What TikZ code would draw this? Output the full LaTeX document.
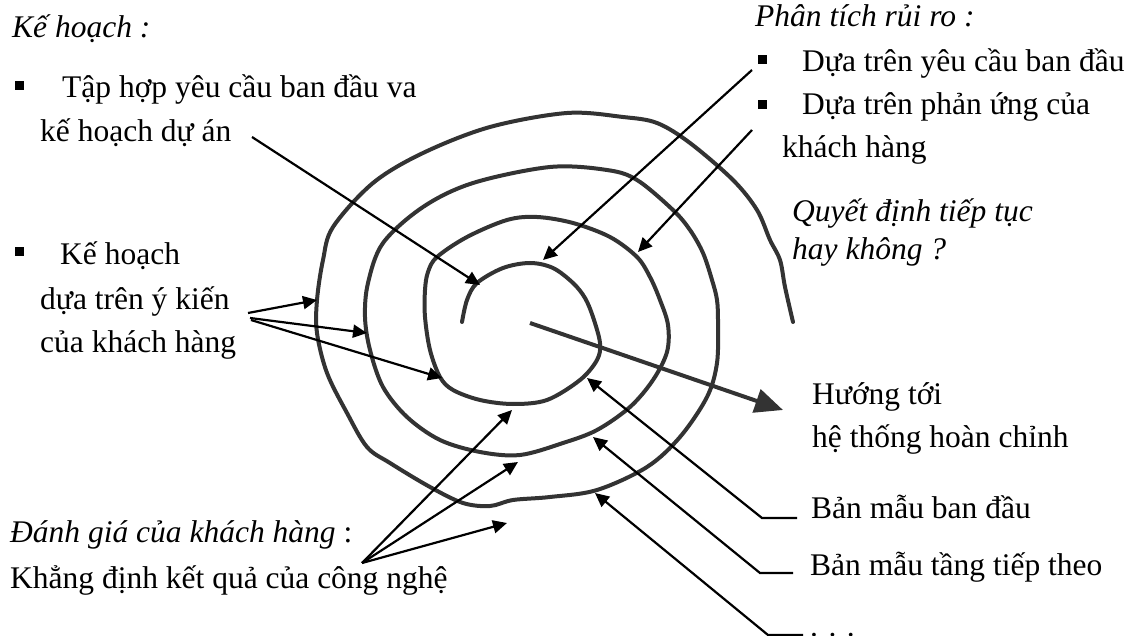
\documentclass[tikz,border=0pt]{standalone}
\usepackage{fontspec}
\setmainfont{Liberation Serif}
\usetikzlibrary{arrows.meta}
\definecolor{coilgray}{HTML}{333333}
\begin{document}
\begin{tikzpicture}[x=1pt,y=-1pt,
  lbl/.style={anchor=base west, inner sep=0pt, font=\fontsize{31.5}{44}\selectfont},
  ilbl/.style={anchor=base west, inner sep=0pt, font=\fontsize{31.5}{44}\selectfont\itshape},
  bul/.style={fill=black, inner sep=0pt, minimum size=9pt},
  ptr/.style={line width=2.2pt, -{Triangle[length=14pt,width=13pt]}},
  coil/.style={line width=4pt, draw=coilgray, line cap=round, line join=round},
]
\useasboundingbox (0,0) rectangle (1133,636);

% ---- the spiral ----
\draw[coil] plot[smooth, tension=0.55] coordinates {
  (462,322) (467,300) (477,283) (503,268) (530,263) (553,268) (573,283)
  (585,298) (593,317) (600,343) (597,360) (580,380) (547,400) (513,404)
  (480,400) (453,390) (440,377) (430,350) (425,317) (425,290) (428,272)
  (437,257) (467,237) (507,220) (537,217) (573,223) (610,237) (637,257)
  (650,277) (660,300) (668,325) (667,352) (653,380) (630,407) (597,430)
  (563,443) (520,455) (480,452) (440,440) (407,417) (383,387) (370,350)
  (365,317) (368,283) (383,243) (423,207) (473,183) (550,167) (607,170)
  (637,180) (673,210) (690,230) (703,253) (712,280) (717,300) (718,323)
  (717,363) (707,397) (680,437) (647,467) (597,490) (550,497) (513,500)
  (490,506) (463,503) (430,487) (390,463) (367,447) (347,413) (327,373)
  (317,333) (317,300) (323,260) (333,227) (373,183) (423,153) (490,127)
  (567,113) (623,117) (657,123) (690,143) (733,180) (757,210) (770,240)
  (780,260) (785,287) (793,322)};

% ---- outward arrow from the centre ----
\coordinate (core) at (530,323);
\coordinate (goal) at (783,410);
\draw[line width=4pt, draw=coilgray, fill=coilgray,
  -{Triangle[length=28pt,width=24pt]}] (core) -- (goal);

% ---- upper left: planning ----
\node[ilbl] (plan) at (12,38) {Kế hoạch :};
\node[bul] (b1) at (19,86) {};
\node[lbl] (req1) at (62,98) {Tập hợp yêu cầu ban đầu va};
\node[lbl] (req2) at (40,142) {kế hoạch dự án};
\coordinate (req2end) at (252,137);
\coordinate (tipreq) at (480,285);
\draw[ptr] (req2end) -- (tipreq);

\node[bul] (b2) at (19,252) {};
\node[lbl] (cp1) at (60,265) {Kế hoạch};
\node[lbl] (cp2) at (40,310) {dựa trên ý kiến};
\node[lbl] (cp3) at (40,353) {của khách hàng};
\coordinate (cpa) at (248,313);
\coordinate (cpb) at (250,318);
\coordinate (cpc) at (251,320);
\coordinate (cpt1) at (317,300);
\coordinate (cpt2) at (367,333);
\coordinate (cpt3) at (442,378);
\draw[ptr] (cpa) -- (cpt1);
\draw[ptr] (cpb) -- (cpt2);
\draw[ptr] (cpc) -- (cpt3);

% ---- upper right: risk analysis ----
\node[ilbl] (risk) at (755,27) {Phân tích rủi ro :};
\node[bul] (b3) at (762,60) {};
\node[lbl] (rk1) at (802,72) {Dựa trên yêu cầu ban đầu};
\node[bul] (b4) at (762,105) {};
\node[lbl] (rk2) at (802,115) {Dựa trên phản ứng của};
\node[lbl] (rk3) at (782,158) {khách hàng};
\coordinate (rka) at (752,70);
\coordinate (rkb) at (752,130);
\coordinate (rkt1) at (543,260);
\coordinate (rkt2) at (638,252);
\draw[ptr] (rka) -- (rkt1);
\draw[ptr] (rkb) -- (rkt2);

\node[ilbl] (go1) at (792,222) {Quyết định tiếp tục};
\node[ilbl] (go2) at (792,260) {hay không ?};

% ---- right: towards the full system ----
\node[lbl] (sys1) at (812,404) {Hướng tới};
\node[lbl] (sys2) at (812,447) {hệ thống hoàn chỉnh};

% ---- lower right: prototypes ----
\node[lbl] (pr1) at (811,518) {Bản mẫu ban đầu};
\node[lbl] (pr2) at (810,575) {Bản mẫu tầng tiếp theo};
\node[lbl] (pr3) at (810,636) {. . .};
\coordinate (pr1e) at (797,518);
\coordinate (pr1k) at (762,518);
\coordinate (pr1t) at (587,378);
\coordinate (pr2e) at (793,573);
\coordinate (pr2k) at (760,573);
\coordinate (pr2t) at (593,437);
\coordinate (pr3e) at (803,635);
\coordinate (pr3k) at (768,635);
\coordinate (pr3t) at (595,493);
\draw[ptr] (pr1e) -- (pr1k) -- (pr1t);
\draw[ptr] (pr2e) -- (pr2k) -- (pr2t);
\draw[ptr] (pr3e) -- (pr3k) -- (pr3t);

% ---- lower left: customer evaluation ----
\node[lbl] (ev1) at (10,542) {\itshape Đánh giá của khách hàng\upshape\ :};
\node[lbl] (ev2) at (10,588) {Khẳng định kết quả của công nghệ};
\coordinate (evs) at (362,563);
\coordinate (evt1) at (512,410);
\coordinate (evt2) at (518,462);
\coordinate (evt3) at (507,523);
\draw[ptr] (evs) -- (evt1);
\draw[ptr] (evs) -- (evt2);
\draw[ptr] (evs) -- (evt3);
\end{tikzpicture}
\end{document}
